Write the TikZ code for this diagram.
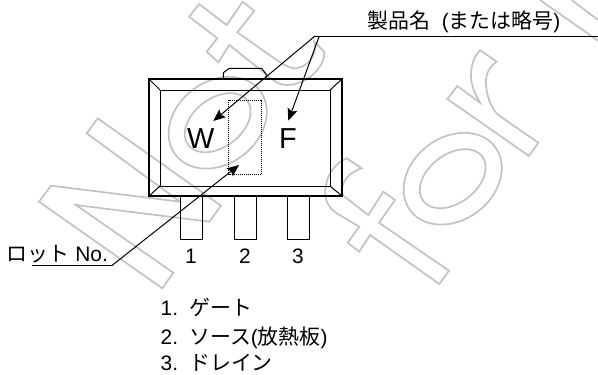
\documentclass[tikz,border=0pt]{standalone}
\usepackage{fontspec}
\setmainfont{Liberation Sans}
\newfontfamily\cjk{Noto Sans CJK JP}
\usetikzlibrary{arrows.meta}
\tikzset{
  wm/.style={draw=black!24,line width=1.7pt,line join=miter},
  outerb/.style={draw=black,line width=2.8pt,line join=miter},
  thin1/.style={draw=black,line width=1pt},
  leader/.style={draw=black,line width=1pt},
  arr/.style={leader,-{Stealth[length=12pt,width=10pt,inset=2pt]}},
  lbl/.style={inner sep=0pt,anchor=base west,font=\fontsize{21}{21}\selectfont},
  pinno/.style={inner sep=0pt,anchor=base,font=\fontsize{21}{21}\selectfont},
  mark1/.style={inner sep=0pt,anchor=base,font=\fontsize{29}{29}\selectfont},
}
\begin{document}
\begin{tikzpicture}[x=1bp,y=-1bp]
\useasboundingbox (0,0) rectangle (598,374);
\begin{scope}
\clip (0,0) rectangle (598,374);
% watermark
\draw[wm] (97.7,118.3)--(221,205.7)--(209.3,221.7)--(76,205)--(173.3,272.7)--(162.3,288.3)--(39,201.7)--(51,185.7)--(180,201.7)--(86.7,133.3)--cycle;
\draw[wm,rotate around={37:(217.7,122.7)}] (217.7,122.7) circle[x radius=53,y radius=41.3];
\draw[wm,rotate around={37:(217.7,122.7)}] (217.7,122.7) circle[x radius=37,y radius=24.3];
\draw[wm,rotate around={37:(452.7,178.7)}] (452.7,178.7) circle[x radius=53,y radius=41.3];
\draw[wm,rotate around={37:(452.7,178.7)}] (452.7,178.7) circle[x radius=37,y radius=24.3];
\draw[wm] (199,4)--(226.7,25)--(242.7,1.7)--(254.3,11)--(237.3,32.3)--(276.7,60)
  .. controls (286,66) and (290,68.3) .. (295,68.3)
  .. controls (307,68) and (318,55) .. (314.3,41.7)
  --(324.3,51.7)
  .. controls (325,68) and (306,85) .. (286.7,85)
  .. controls (278,85) and (272,79) .. (268.3,76)
  --(229.3,45)--(218.3,62.3)--(206.7,51.7)--(217.3,38.3)--(189.3,16.7)--cycle;
\draw[wm] (449,270.7)--(439.3,284)--(370,235)--(359.3,251.7)--(347.7,242.7)--(359.3,226.7)--(336.7,213.3)
  .. controls (325,205) and (324,195) .. (326,185)
  .. controls (328,173) and (336,163) .. (346.7,158.3)
  --(361.7,168.3)
  .. controls (350,172) and (342,180) .. (341.7,191.7)
  .. controls (341.7,195) and (344,197) .. (346.7,198.3)
  --(368.3,215)--(383.3,191.7)--(395,200)--(379,222.7)--cycle;
\draw[wm] (480,50)--(496.7,61.7)
  .. controls (488,68) and (485.5,75) .. (486,84)
  .. controls (486.5,96) and (491,108) .. (498.3,115)
  --(538.3,142.7)--(529,156)--(447.3,99)--(457.3,86)--(480,102.7)
  .. controls (474,92) and (471,84) .. (471,76)
  .. controls (471,65) and (474,57) .. (480,50)--cycle;
\draw[wm] (540,0)--(598,40.7);
\draw[wm] (571.7,0)--(598,20);
\end{scope}
% leads
\draw[thin1] (180.5,196)--(180.5,239)--(202.5,239)--(202.5,196);
\draw[thin1] (234,196)--(234,239)--(256,239)--(256,196);
\draw[thin1] (287.5,196)--(287.5,239)--(309.5,239)--(309.5,196);
% tab
\draw[thin1] (223.3,79)--(223.3,72.7)--(229.3,68.3)--(261.7,68.3)--(266,74)--(266,79);
% body
\coordinate (oNW) at (149,79);\coordinate (oNE) at (342,79);
\coordinate (oSE) at (342,196);\coordinate (oSW) at (149,196);
\coordinate (iNW) at (160,90);\coordinate (iNE) at (330,90);
\coordinate (iSE) at (330,186);\coordinate (iSW) at (160,186);
\draw[thin1] (iNW)--(iNE)--(iSE)--(iSW)--cycle;
\draw[thin1] (oNW)--(iNW) (oNE)--(iNE) (oSE)--(iSE) (oSW)--(iSW);
\draw[outerb] (oNW)--(oNE)--(oSE)--(oSW)--cycle;
% dotted
\draw[black,line width=1pt,densely dotted] (228.7,100) rectangle (261,174.7);
% marks
\node[mark1] (mw) at (200.7,148.3) {W};
\node[mark1] (mf) at (288,148.3) {F};
% top label
\node[lbl] (prod) at (367.3,28) {{\cjk 製品名}\ \ ({\cjk または略号})};
\coordinate (ta) at (315,36);
\coordinate (tb) at (319.3,36);
\coordinate (te) at (598,36);
\coordinate (twt) at (213.3,121);
\coordinate (tft) at (288.3,120.7);
\draw[leader] (ta)--(te);
\draw[arr] (ta)--(twt);
\draw[arr] (tb)--(tft);
% lot
\node[lbl] (lot) at (6.5,261.7) {{\cjk ロット} No.};
\coordinate (la) at (31.7,265.7);
\coordinate (lb) at (111.7,265.7);
\coordinate (lt) at (239,165);
\draw[leader] (la)--(lb);
\draw[arr] (lb)--(lt);
% pin numbers
\node[pinno] (p1) at (191,263.3) {1};
\node[pinno] (p2) at (245,263.3) {2};
\node[pinno] (p3) at (298,263.3) {3};
% list
\node[lbl] (n1) at (160.5,315) {1.};
\node[lbl] (t1) at (189,315) {\cjk ゲート};
\node[lbl] (n2) at (160.5,344.5) {2.};
\node[lbl] (t2) at (189,344.5) {{\cjk ソース}({\cjk 放熱板})};
\node[lbl] (n3) at (160.5,370.5) {3.};
\node[lbl] (t3) at (189,370.5) {\cjk ドレイン};
\end{tikzpicture}
\end{document}
